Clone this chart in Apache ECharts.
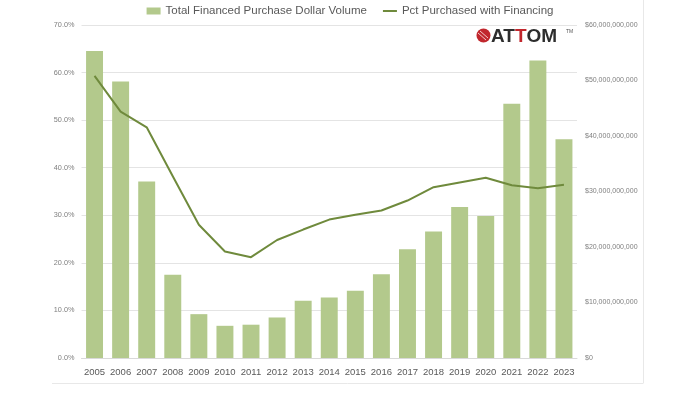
<!DOCTYPE html>
<html><head><meta charset="utf-8">
<script src="https://cdn.jsdelivr.net/npm/echarts@6/dist/echarts.min.js"></script>
<style>html,body{margin:0;padding:0;background:#fff}#c{width:700px;height:394px}</style>
</head><body><div id="c"></div>
<script>
const years = ['2005','2006','2007','2008','2009','2010','2011','2012','2013','2014','2015','2016','2017','2018','2019','2020','2021','2022','2023'];
const dollarVolume = [55.3e9,49.8e9,31.8e9,15.0e9,7.9e9,5.8e9,6.0e9,7.3e9,10.3e9,10.9e9,12.1e9,15.1e9,19.6e9,22.8e9,27.2e9,25.6e9,45.8e9,53.6e9,39.4e9];
const pctFinanced = [59.3,51.8,48.5,38.2,28.0,22.4,21.2,24.8,27.0,29.1,30.1,31.0,33.1,35.9,36.9,37.9,36.3,35.7,36.4];
const seriesNames = ['Total Financed Purchase Dollar Volume','Pct Purchased with Financing'];

const font = 'Liberation Sans, Arial, sans-serif';
const chart = echarts.init(document.getElementById('c'), null, {renderer:'canvas'});
chart.setOption({
  animation:false,
  backgroundColor:'#fff',
  legend:{
    top:0, left:'center',
    itemWidth:14, itemHeight:7, itemGap:16,
    textStyle:{fontFamily:font, fontSize:11.5, color:'#595959'},
    data:[{name:seriesNames[0], icon:'rect'},
          {name:seriesNames[1], icon:'path://M0,0H14V2H0Z'}]
  },
  grid:{left:81.5, right:123, top:25, bottom:36},
  xAxis:{
    type:'category', data:years,
    axisLine:{lineStyle:{color:'#d9d9d9'}},
    axisTick:{show:false},
    axisLabel:{fontFamily:font, fontSize:9.5, color:'#595959', margin:9, interval:0}
  },
  yAxis:[
    {type:'value', min:0, max:70, interval:10, position:'left',
     axisLabel:{fontFamily:font, fontSize:7.3, color:'#7f7f7f', margin:7, formatter:v=>v.toFixed(1)+'%'},
     splitLine:{lineStyle:{color:'#e4e4e4'}}, axisLine:{show:false}, axisTick:{show:false}},
    {type:'value', min:0, max:60e9, interval:10e9, position:'right',
     axisLabel:{fontFamily:font, fontSize:7, color:'#7f7f7f', margin:8,
       formatter:v=>'$'+Math.round(v).toLocaleString('en-US')},
     splitLine:{show:false}, axisLine:{show:false}, axisTick:{show:false}}
  ],
  series:[
    {name:seriesNames[0], type:'bar', yAxisIndex:1, data:dollarVolume,
     barCategoryGap:'35%', itemStyle:{color:'#b3c98c'}},
    {name:seriesNames[1], type:'line', yAxisIndex:0, data:pctFinanced,
     symbol:'none', lineStyle:{color:'#6f8a3c', width:2}, itemStyle:{color:'#6f8a3c'}}
  ],
  graphic:[
    {type:'line', shape:{x1:643.5,y1:0,x2:643.5,y2:383}, style:{stroke:'#e8e8e8', lineWidth:1}, silent:true},
    {type:'line', shape:{x1:52,y1:383.5,x2:643.5,y2:383.5}, style:{stroke:'#e8e8e8', lineWidth:1}, silent:true},
    {type:'circle', shape:{cx:483.5, cy:35.5, r:7}, style:{fill:'#c1272d'}},
    {type:'line', shape:{x1:478,y1:33,x2:486,y2:40}, style:{stroke:'#f3c9c9', lineWidth:1}},
    {type:'line', shape:{x1:480,y1:31,x2:488,y2:38}, style:{stroke:'#f3c9c9', lineWidth:1}},
    {type:'text', x:491, y:27, style:{
      text:'{d|AT}{r|T}{d|OM}', fontFamily:font,
      rich:{d:{fontSize:19, fontWeight:'bold', fill:'#2d2d2d', fontFamily:font},
            r:{fontSize:19, fontWeight:'bold', fill:'#c1272d', fontFamily:font}}}},
    {type:'text', x:566, y:29, style:{text:'TM', fontSize:5, fontFamily:font, fill:'#555'}}
  ]
});
</script></body></html>
